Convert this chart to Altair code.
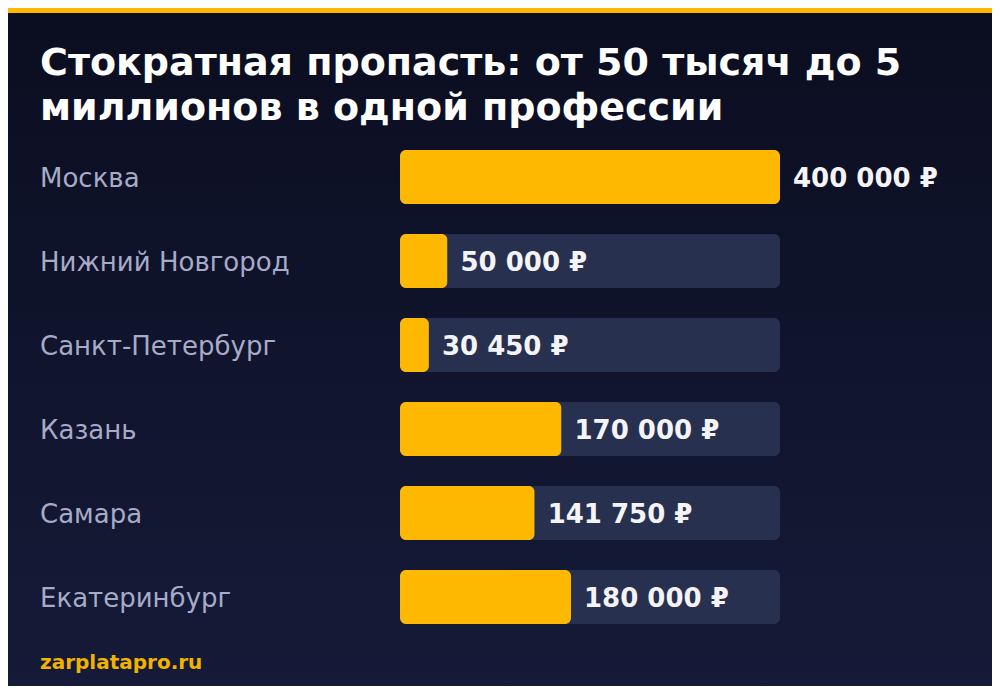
import altair as alt
import pandas as pd

cities = ["Москва", "Нижний Новгород", "Санкт-Петербург", "Казань", "Самара", "Екатеринбург"]
salaries = [400000, 50000, 30450, 170000, 141750, 180000]
scale_max = 400000

title_lines = ["Стократная пропасть: от 50 тысяч до 5", "миллионов в одной профессии"]
footer = "zarplatapro.ru"

W, H = 984, 678
FONT = "DejaVu Sans"
ORANGE = "#FFB800"
TRACK = "#283050"

df = pd.DataFrame({
    "city": cities,
    "salary": salaries,
    "max": [scale_max] * len(cities),
    "label": [f"{v:,}".replace(",", " ") + " ₽" for v in salaries],
})

x_scale = alt.Scale(domain=[0, scale_max], range=[392, 772])
y_scale = alt.Scale(type="band", domain=cities, range=[142, 616], paddingInner=30 / 84, paddingOuter=0)

one = pd.DataFrame({"k": [0]})

bg = alt.Chart(one).mark_rect(
    color=alt.Gradient(
        gradient="linear",
        stops=[alt.GradientStop(color="#0b0e20", offset=0), alt.GradientStop(color="#151a38", offset=1)],
        x1=0, x2=0, y1=0, y2=1,
    )
).encode(x=alt.value(0), x2=alt.value(W), y=alt.value(0), y2=alt.value(H))

stripe = alt.Chart(one).mark_rect(color=ORANGE).encode(
    x=alt.value(0), x2=alt.value(W), y=alt.value(0), y2=alt.value(5)
)

title = alt.Chart(pd.DataFrame({"t": title_lines, "i": [0, 1]})).mark_text(
    font=FONT, fontSize=38, fontWeight="bold", color="#ffffff", align="left", baseline="alphabetic"
).encode(
    x=alt.value(32),
    y=alt.Y("i:Q", scale=alt.Scale(domain=[0, 1], range=[67, 112]), axis=None),
    text="t:N",
)

base = alt.Chart(df)

track = base.mark_bar(color=TRACK, cornerRadius=6).encode(
    x=alt.X("max:Q", scale=x_scale, axis=None),
    y=alt.Y("city:N", scale=y_scale, axis=None, sort=cities),
)

bars = base.mark_bar(color=ORANGE, cornerRadius=6).encode(
    x=alt.X("salary:Q", scale=x_scale, axis=None),
    y=alt.Y("city:N", scale=y_scale, axis=None, sort=cities),
)

city_labels = base.mark_text(
    font=FONT, fontSize=26, color="#a6abc8", align="left", baseline="middle", dy=2
).encode(
    x=alt.value(32),
    y=alt.Y("city:N", scale=y_scale, axis=None, sort=cities),
    text="city:N",
)

value_labels = base.mark_text(
    font=FONT, fontSize=26, fontWeight="bold", color="#f4f4f8", align="left", baseline="middle", dx=13, dy=2
).encode(
    x=alt.X("salary:Q", scale=x_scale, axis=None),
    y=alt.Y("city:N", scale=y_scale, axis=None, sort=cities),
    text="label:N",
)

foot = alt.Chart(pd.DataFrame({"t": [footer]})).mark_text(
    font=FONT, fontSize=20, fontWeight="bold", color="#f2b200", align="left", baseline="alphabetic"
).encode(x=alt.value(32), y=alt.value(661), text="t:N")

chart = alt.layer(bg, stripe, title, track, bars, city_labels, value_labels, foot).resolve_scale(
    y="independent"
).properties(
    width=W, height=H, padding=0, autosize=alt.AutoSizeParams(type="none"), background="#11152d"
).configure_view(strokeWidth=0)

chart.save("out.html", embed_options={"renderer": "svg", "actions": False})
